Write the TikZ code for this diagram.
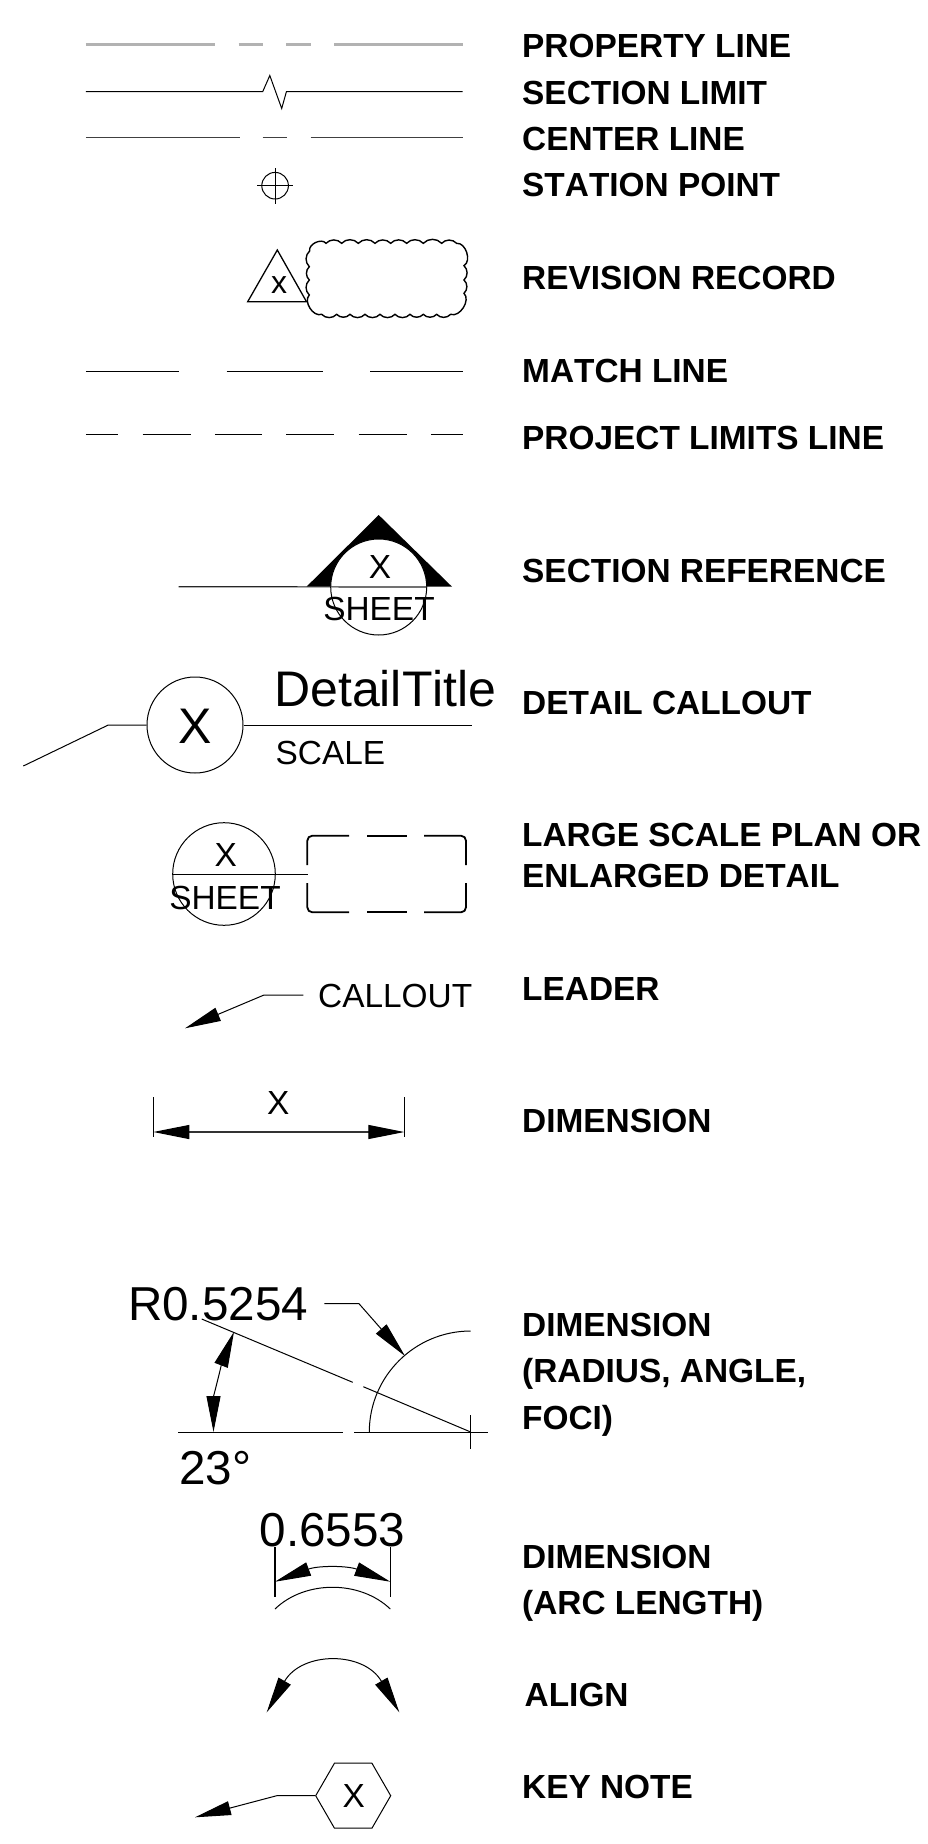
\documentclass[tikz,border=0pt]{standalone}
\usepackage{fontspec}
\setmainfont[Kerning=Off]{Liberation Sans}
\usetikzlibrary{arrows.meta,shapes.geometric,calc}
\newcommand{\fsz}[1]{\fontsize{#1}{#1}\selectfont}
\tikzset{
  thin line/.style={line width=1pt,black},
  lbl/.style={anchor=base west,inner sep=0,font=\fsz{33.4}\bfseries},
  txt/.style={anchor=base,inner sep=0,font=\fsz{33.4}},
  big/.style={anchor=base,inner sep=0,font=\fsz{47.6}},
  ring/.style={circle,draw,line width=1pt,inner sep=0},
  tip/.style={-{Triangle[length=36pt,width=14pt]}},
  tips/.style={{Triangle[length=36pt,width=14pt]}-{Triangle[length=36pt,width=14pt]}},
  bump/.style={bend left=48},
  cornerbump/.style={bend left=78},
}
\begin{document}
\begin{tikzpicture}[x=1pt,y=-1pt]
\useasboundingbox[fill=white] (0,0) rectangle (928,1844);
% labels
\node[lbl] (l1) at (522,57.5) {PROPERTY LINE};
\node[lbl] (l2) at (522,104) {SECTION LIMIT};
\node[lbl] (l3) at (522,150.5) {CENTER LINE};
\node[lbl] (l4) at (522,196.5) {STATION POINT};
\node[lbl] (l5) at (522,289.5) {REVISION RECORD};
\node[lbl] (l6) at (522,382) {MATCH LINE};
\node[lbl] (l7) at (522,449) {PROJECT LIMITS LINE};
\node[lbl] (l8) at (522,582) {SECTION REFERENCE};
\node[lbl] (l9) at (522,714) {DETAIL CALLOUT};
\node[lbl] (l10) at (522,846.7) {LARGE SCALE PLAN OR};
\node[lbl] (l11) at (522,887.7) {ENLARGED DETAIL};
\node[lbl] (l12) at (522,1000) {LEADER};
\node[lbl] (l13) at (522,1132) {DIMENSION};
\node[lbl] (l14) at (522,1336.7) {DIMENSION};
\node[lbl] (l15) at (522,1382.7) {(RADIUS, ANGLE,};
\node[lbl] (l16) at (522,1429) {FOCI)};
\node[lbl] (l17) at (522,1568.3) {DIMENSION};
\node[lbl] (l18) at (522,1614.7) {(ARC LENGTH)};
\node[lbl] (l19) at (524.5,1706.7) {ALIGN};
\node[lbl] (l20) at (522,1798.3) {KEY NOTE};
% property line
\draw[line width=3pt,black!30] (85.8,44.7) -- (214.8,44.7) (238.5,44.7) -- (263.3,44.7) (286.4,44.7) -- (310.7,44.7) (334.3,44.7) -- (462.7,44.7);
% section limit
\draw[thin line,line join=miter] (85.8,91.7) -- (262.7,91.7) -- (269.8,75.5) -- (281.7,108.5) -- (286.4,91.7) -- (462.7,91.7);
% center line
\draw[line width=1.2pt,black!75] (85.8,137.7) -- (239.6,137.7) (262.7,137.7) -- (287,137.7) (310.7,137.7) -- (462.7,137.7);
% station point
\node[ring,minimum size=26.6pt] (sp) at (275.1,185.7) {};
\draw[thin line] (275.1,168) -- (275.1,203.5) (257.4,185.7) -- (292.9,185.7);
% revision record
\coordinate (ta) at (277.3,250);
\coordinate (tl) at (247.7,301.7);
\coordinate (tr) at (306.5,301.7);
\draw[line width=1.3pt] (ta) -- (tl) -- (tr) -- cycle;
\node[anchor=base,inner sep=0,font=\fsz{32}] (rx) at (279,293) {x};
\begin{scope}[shift={(240,225)},x=0.3333pt,y=-0.3333pt]
\draw[line width=1.4pt] (209,78)
  to[cornerbump] (258,55) to[bump] (305,55) to[bump] (355,55) to[bump] (405,55)
  to[bump] (452,55) to[bump] (500,55) to[bump] (550,55) to[bump] (605,55)
  to[bump] (650,55) to[cornerbump] (672,122) to[bump] (672,165) to[bump] (672,205)
  to[cornerbump] (632,268) to[bump] (590,268) to[bump] (550,268) to[bump] (510,268)
  to[bump] (465,268) to[bump] (420,268) to[bump] (375,268) to[bump] (330,268) to[bump] (290,268)
  to[bump] (245,268) to[cornerbump] (208,210) to[bump] (208,165) to[bump] (208,125) to[bump] cycle;
\end{scope}
% match line
\draw[thin line] (85.8,371) -- (178.7,371) (226.6,371) -- (323,371) (370.4,371) -- (462.7,371);
% project limits
\draw[thin line] (85.8,434.3) -- (118.3,434.3) (142.6,434.3) -- (191.1,434.3) (214.8,434.3) -- (262,434.3) (286.4,434.3) -- (334.3,434.3) (358.6,434.3) -- (407,434.3) (430.8,434.3) -- (462.7,434.3);
% section reference
\coordinate (sa) at (378.7,515);
\coordinate (sl) at (306.5,586.7);
\coordinate (sr) at (452,586.7);
\fill (sa) -- (sl) -- (sr) -- cycle;
\node[ring,fill=white,minimum size=96pt] (sc) at (378.7,587) {};
\coordinate (sw) at (178.7,586.7);
\draw[line width=1.2pt,black!85] (sw) -- (sc.east);
\node[txt] (sx) at (380,578) {X};
\node[txt] (ss) at (379,620.5) {SHEET};
% detail callout
\node[ring,minimum size=96pt] (dc) at (195,725) {};
\node[anchor=base,inner sep=0,font=\fsz{50}] (dx) at (195,743) {X};
\coordinate (dk) at (108.3,725);
\coordinate (dt) at (23.3,766);
\coordinate (de) at (472.2,725);
\draw[thin line] (dt) -- (dk) -- (dc.west);
\draw[thin line] (dc.east) -- (de);
\node[anchor=base west,inner sep=0,font=\fsz{50}] (dtt) at (274,706) {DetailTitle};
\node[anchor=base west,inner sep=0,font=\fsz{33.4}] (dsc) at (275.5,764) {SCALE};
% large scale plan
\node[ring,minimum size=102.6pt] (lc) at (224,874) {};
\coordinate (lr) at (308,874);
\draw[thin line] (lc.west) -- (lr);
\node[txt] (lx) at (225.7,866.5) {X};
\node[txt] (ls) at (225,909) {SHEET};
\draw[line width=1.8pt,rounded corners=5pt] (349,835.7) -| (307.3,865);
\draw[line width=1.8pt,rounded corners=5pt] (424,835.7) -| (466,865);
\draw[line width=1.8pt,rounded corners=5pt] (349,912.3) -| (307.3,883);
\draw[line width=1.8pt,rounded corners=5pt] (424,912.3) -| (466,883);
\draw[line width=1.8pt] (367,835.7) -- (407,835.7) (367,912.3) -- (407,912.3);
% leader
\node[anchor=base west,inner sep=0,font=\fsz{33.4}] (cal) at (318,1007.5) {CALLOUT};
\coordinate (ce) at (303.3,995);
\coordinate (ck) at (264,995);
\coordinate (ct) at (185,1028.3);
\draw[thin line,tip] (ce) -- (ck) -- (ct);
% dimension
\coordinate (d1) at (153.3,1132);
\coordinate (d2) at (404.3,1132);
\draw[thin line] (153.3,1097.3) -- (153.3,1136.7) (404.3,1097.3) -- (404.3,1136.7);
\draw[line width=1.2pt,black!80,{Triangle[length=36pt,width=14pt,black]}-{Triangle[length=36pt,width=14pt,black]}] (d1) -- (d2);
\node[txt] (dix) at (278.3,1114.5) {X};
% radius / angle
\node[big] (r) at (218,1320.7) {R0.5254};
\node[big] (ang) at (215.4,1484) {23°};
\coordinate (c0) at (470.7,1432);
\coordinate (rk1) at (324.3,1303.7);
\coordinate (rk2) at (359,1303.7);
\coordinate (rk3) at (405,1356);
\draw[thin line,tip] (rk1) -- (rk2) -- (rk3);
\draw[thin line] (369.3,1432) .. controls (369.3,1376.2) and (414.9,1331) .. (470.7,1331);
\draw[thin line] (201.7,1319) -- (352.7,1382.3) (363.3,1386.7) -- (c0);
\draw[thin line] (178.3,1432) -- (342.7,1432) (354,1432) -- (488.3,1432) (470.7,1415) -- (470.7,1449.3);
\coordinate (a1) at (213.5,1432);
\coordinate (a2) at (234,1331.7);
\draw[thin line,tips] (a1) .. controls (213.5,1397) and (222,1363) .. (a2);
% arc length
\node[big] (al) at (332.5,1546.7) {0.6553};
\coordinate (e1) at (275,1581.7);
\coordinate (e2) at (390.3,1581.7);
\draw[line width=1.1pt] (275,1546.7) -- (275,1597.3) (390.3,1546.7) -- (390.3,1597.3);
\draw[thin line,tips] (e1) .. controls (318,1565.5) and (347,1565.5) .. (e2);
\draw[thin line] (275,1609) .. controls (305,1580) and (360,1580) .. (390.3,1609);
% align
\coordinate (g1) at (266.7,1712.3);
\coordinate (g2) at (399.3,1712.3);
\draw[thin line,tips] (g1) .. controls (302,1651) and (364,1651) .. (g2);
% key note
\node[regular polygon,regular polygon sides=6,draw,line width=1pt,minimum size=75pt,inner sep=0] (kn) at (353.2,1795.7) {};
\node[anchor=base,inner sep=0,font=\fsz{33.4}] (kx) at (353.7,1807) {X};
\coordinate (kk) at (276.7,1795.7);
\coordinate (kt) at (195,1817.3);
\draw[thin line,tip] (kn.west) -- (kk) -- (kt);
\end{tikzpicture}
\end{document}
